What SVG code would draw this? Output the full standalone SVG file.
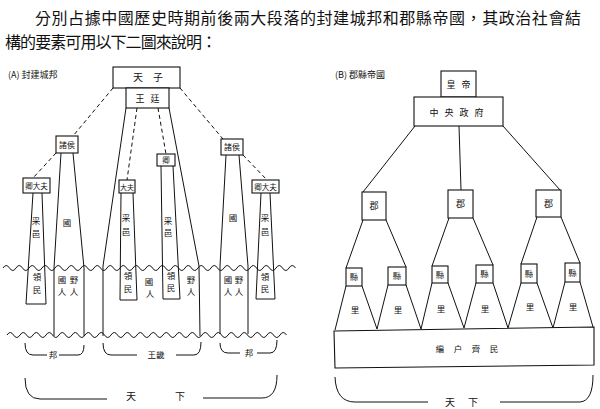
<svg xmlns="http://www.w3.org/2000/svg" width="600" height="409" viewBox="0 0 600 409">
<style>
.t{font-family:"Noto Sans CJK TC","Noto Sans CJK SC",sans-serif;fill:#111;text-anchor:middle}
.s{font-size:8.5px}
.b{fill:#fff;stroke:#111;stroke-width:1.1}
.ln{fill:none;stroke:#111;stroke-width:1}
.d{fill:none;stroke:#111;stroke-width:1;stroke-dasharray:4 3}
.h{font-family:"Noto Sans CJK TC","Noto Sans CJK SC",sans-serif;fill:#111;font-size:16px}
</style>
<rect width="600" height="409" fill="#fff"/>
<text class="h" x="35" y="24" textLength="546" lengthAdjust="spacing">分別占據中國歷史時期前後兩大段落的封建城邦和郡縣帝國，其政治社會結</text>
<text class="h" x="5" y="48" textLength="212" lengthAdjust="spacing">構的要素可用以下二圖來說明：</text>

<text class="t" x="8" y="78" style="font-size:9px;text-anchor:start">(A) 封建城邦</text>
<text class="t" x="335" y="78" style="font-size:9px;text-anchor:start">(B) 郡縣帝國</text>

<g id="connectors">
<line class="d" x1="113" y1="88" x2="73" y2="136"/>
<line class="d" x1="180" y1="88" x2="223" y2="139"/>
<line class="d" x1="56" y1="153" x2="33" y2="178"/>
<line class="d" x1="137" y1="108" x2="127" y2="180"/>
<line class="d" x1="158" y1="108" x2="166" y2="154"/>
<line class="d" x1="243" y1="155" x2="267" y2="180"/>
<polyline class="ln" points="33,193 26,304 46,304 42,193"/>
<polyline class="ln" points="61,153 54,268 54,336"/>
<polyline class="ln" points="73,153 84,268 84,336"/>
<polyline class="ln" points="126,108 103,266 103,336"/>
<polyline class="ln" points="169,108 199,266 200,336"/>
<polyline class="ln" points="121,193 120,300 137,300 133,193"/>
<polyline class="ln" points="161,166 163,299 180,299 173,166"/>
<polyline class="ln" points="226,155 220,266 220,334"/>
<polyline class="ln" points="239,155 248,266 248,334"/>
<polyline class="ln" points="261,193 256,299 275,299 270,193"/>
<path class="ln" d="M3 268q3.25 -5 6.5 0t6.5 0t6.5 0t6.5 0t6.5 0t6.5 0t6.5 0t6.5 0t6.5 0t6.5 0t6.5 0t6.5 0t6.5 0t6.5 0t6.5 0t6.5 0t6.5 0t6.5 0t6.5 0t6.5 0t6.5 0t6.5 0t6.5 0t6.5 0t6.5 0t6.5 0t6.5 0t6.5 0t6.5 0t6.5 0t6.5 0t6.5 0t6.5 0t6.5 0t6.5 0t6.5 0t6.5 0t6.5 0t6.5 0t6.5 0t6.5 0t6.5 0t6.5 0t6.5 0t6.5 0"/>
<path class="ln" d="M7 335q3.25 -5 6.5 0t6.5 0t6.5 0t6.5 0t6.5 0t6.5 0t6.5 0t6.5 0t6.5 0t6.5 0t6.5 0t6.5 0t6.5 0t6.5 0t6.5 0t6.5 0t6.5 0t6.5 0t6.5 0t6.5 0t6.5 0t6.5 0t6.5 0t6.5 0t6.5 0t6.5 0t6.5 0t6.5 0t6.5 0t6.5 0t6.5 0t6.5 0t6.5 0t6.5 0t6.5 0t6.5 0t6.5 0t6.5 0t6.5 0t6.5 0t6.5 0t6.5 0t6.5 0"/>
<path class="ln" d="M25 343Q25 355 33 355H47M59 355H78Q84 355 84 345"/>
<path class="ln" d="M103 343Q103 355 111 355H137M176 355H194Q201 355 201 342"/>
<path class="ln" d="M220 343Q220 353 228 353H240M257 353H270Q277 353 277 340"/>
<path class="ln" d="M25 378Q25 399 40 399H107M203 398H262Q277 398 277 375"/>
<line class="ln" x1="415" y1="126" x2="363" y2="192"/>
<line class="ln" x1="459" y1="126" x2="461" y2="190"/>
<line class="ln" x1="503" y1="126" x2="560" y2="190"/>
<line class="ln" x1="363" y1="220" x2="346" y2="268"/>
<line class="ln" x1="386" y1="220" x2="406" y2="267"/>
<line class="ln" x1="449" y1="218" x2="432" y2="266"/>
<line class="ln" x1="473" y1="218" x2="493" y2="265"/>
<line class="ln" x1="537" y1="217" x2="521" y2="264"/>
<line class="ln" x1="561" y1="217" x2="580" y2="263"/>
<polyline class="ln" points="346,286 335,330"/>
<polyline class="ln" points="362,286 377,329 388,285"/>
<polyline class="ln" points="406,285 421,329 432,283"/>
<polyline class="ln" points="448,283 464,328 476,283"/>
<polyline class="ln" points="493,283 508,328 521,283"/>
<polyline class="ln" points="537,283 553,328 565,282"/>
<polyline class="ln" points="580,282 593,327"/>
<path class="ln" d="M335 377Q336 402 355 402H428M500 402H580Q593 401 593 375"/>
</g>

<g id="tianzi"><rect class="b" x="113" y="67" width="67" height="21"/><text class="t" x="138" y="81" style="font-size:10px">天</text><text class="t" x="158" y="81" style="font-size:10px">子</text></g>
<g id="wangting"><rect class="b" x="126" y="88" width="43" height="20"/><text class="t" x="140" y="102" style="font-size:9px">王</text><text class="t" x="155" y="102" style="font-size:9px">廷</text></g>
<g id="zhuhou-l"><rect class="b" x="56" y="136" width="22" height="17"/><text class="t" x="67" y="147.5" style="font-size:8px">諸侯</text></g>
<g id="zhuhou-r"><rect class="b" x="221" y="139" width="22" height="16"/><text class="t" x="232" y="150" style="font-size:8px">諸侯</text></g>
<g id="qingdafu-l"><rect class="b" x="23" y="178" width="27" height="15"/><text class="t" x="36.5" y="188.5" style="font-size:7.5px">卿大夫</text></g>
<g id="dafu"><rect class="b" x="119" y="180" width="16" height="13"/><text class="t" x="127" y="189.5" style="font-size:7px">大夫</text></g>
<g id="qing"><rect class="b" x="157" y="154" width="18" height="12"/><text class="t" x="166" y="163" style="font-size:7.5px">卿</text></g>
<g id="qingdafu-r"><rect class="b" x="252" y="180" width="27" height="13"/><text class="t" x="265.5" y="189.5" style="font-size:7.5px">卿大夫</text></g>

<g id="labels-a">
<text class="t s" x="36" y="224">采</text><text class="t s" x="36" y="237">邑</text>
<text class="t s" x="37" y="280">領</text><text class="t s" x="37" y="293">民</text>
<text class="t s" x="67" y="226">國</text>
<text class="t s" x="62" y="283">國</text><text class="t s" x="62" y="295">人</text>
<text class="t s" x="74" y="283">野</text><text class="t s" x="74" y="295">人</text>
<text class="t s" x="126" y="221">采</text><text class="t s" x="126" y="235">邑</text>
<text class="t s" x="128" y="279">領</text><text class="t s" x="128" y="292">民</text>
<text class="t s" x="149" y="285">國</text><text class="t s" x="150" y="297">人</text>
<text class="t s" x="168" y="224">采</text><text class="t s" x="168" y="236">邑</text>
<text class="t s" x="171" y="279">領</text><text class="t s" x="171" y="291">民</text>
<text class="t s" x="191" y="283">野</text><text class="t s" x="191" y="295">人</text>
<text class="t s" x="233" y="221">國</text>
<text class="t s" x="228" y="283">國</text><text class="t s" x="228" y="295">人</text>
<text class="t s" x="239" y="283">野</text><text class="t s" x="239" y="295">人</text>
<text class="t s" x="265" y="221">采</text><text class="t s" x="265" y="235">邑</text>
<text class="t s" x="265" y="280">領</text><text class="t s" x="265" y="292">民</text>
<text class="t s" x="53" y="358">邦</text>
<text class="t s" x="156" y="358">王畿</text>
<text class="t s" x="249" y="356">邦</text>
<text class="t" x="131" y="400" style="font-size:10px">天</text><text class="t" x="180" y="400" style="font-size:10px">下</text>
</g>

<g id="huangdi"><rect class="b" x="441" y="71" width="35" height="26"/><text class="t" x="451" y="88" style="font-size:9px">皇</text><text class="t" x="466" y="88" style="font-size:9px">帝</text></g>
<g id="zhongyang"><rect class="b" x="414" y="97" width="89" height="29"/><text class="t" x="434" y="115.5" style="font-size:9px">中</text><text class="t" x="449" y="115.5" style="font-size:9px">央</text><text class="t" x="464" y="115.5" style="font-size:9px">政</text><text class="t" x="479" y="115.5" style="font-size:9px">府</text></g>
<g id="jun1"><rect class="b" x="362" y="192" width="24" height="28"/><text class="t" x="374" y="209" style="font-size:9px">郡</text></g>
<g id="jun2"><rect class="b" x="448" y="190" width="25" height="28"/><text class="t" x="460.5" y="207" style="font-size:9px">郡</text></g>
<g id="jun3"><rect class="b" x="536" y="190" width="25" height="27"/><text class="t" x="548.5" y="206.5" style="font-size:9px">郡</text></g>
<g id="xian1"><rect class="b" x="346" y="268" width="16" height="18"/><text class="t" x="354" y="280" style="font-size:8.5px">縣</text></g>
<g id="xian2"><rect class="b" x="388" y="267" width="18" height="18"/><text class="t" x="397" y="279" style="font-size:8.5px">縣</text></g>
<g id="xian3"><rect class="b" x="432" y="266" width="16" height="17"/><text class="t" x="440" y="277.5" style="font-size:8.5px">縣</text></g>
<g id="xian4"><rect class="b" x="476" y="265" width="17" height="18"/><text class="t" x="484.5" y="277" style="font-size:8.5px">縣</text></g>
<g id="xian5"><rect class="b" x="521" y="264" width="16" height="19"/><text class="t" x="529" y="276.5" style="font-size:8.5px">縣</text></g>
<g id="xian6"><rect class="b" x="565" y="263" width="15" height="19"/><text class="t" x="572.5" y="275.5" style="font-size:8.5px">縣</text></g>
<g id="li">
<text class="t s" x="355" y="313">里</text><text class="t s" x="398" y="313">里</text><text class="t s" x="441" y="312">里</text>
<text class="t s" x="485" y="312">里</text><text class="t s" x="530" y="310">里</text><text class="t s" x="573" y="310">里</text>
</g>
<g id="bianhu"><polygon class="b" points="334,331 594,327 594,365 335,368"/><text class="t s" x="440" y="352">編</text><text class="t s" x="458" y="352">户</text><text class="t s" x="476" y="352">齊</text><text class="t s" x="494" y="352">民</text></g>
<g id="tianxia-b"><text class="t" x="450" y="406" style="font-size:10px">天</text><text class="t" x="473" y="406" style="font-size:10px">下</text></g>
</svg>
